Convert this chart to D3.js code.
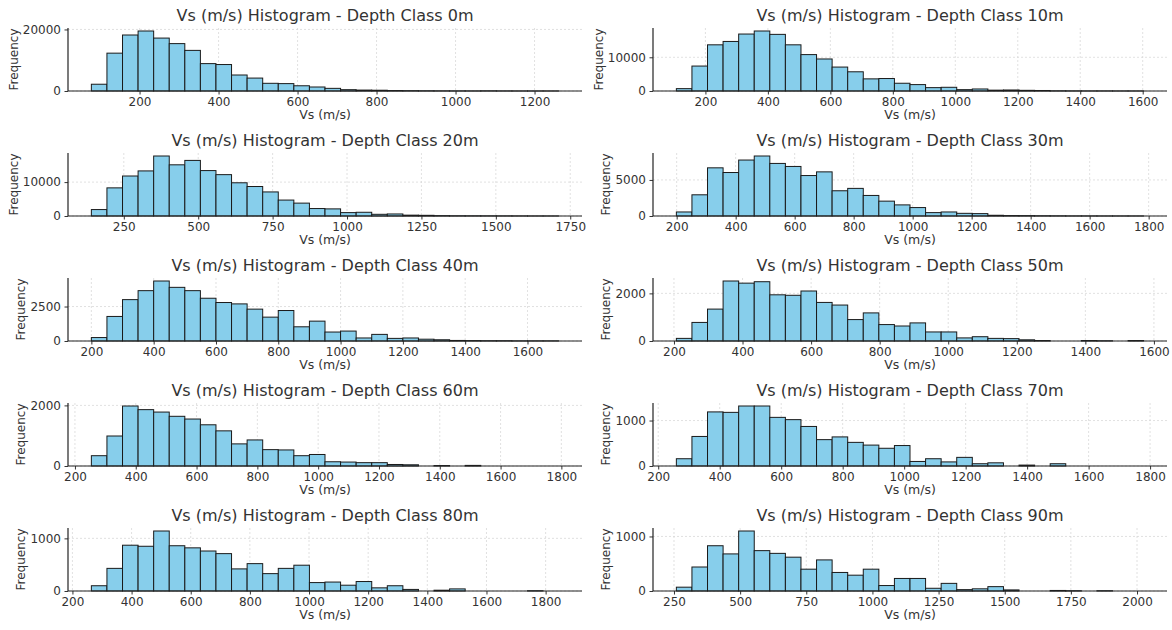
<!DOCTYPE html>
<html>
<head>
<meta charset="utf-8">
<script src="https://cdn.jsdelivr.net/npm/d3@7"></script>
<style>
  body { margin: 0; background: #fff; }
  svg { display: block; font-family: "DejaVu Sans", sans-serif; }
</style>
</head>
<body>
<svg id="chart"></svg>
<script>
// depth classes, one histogram each (30 bins between binMin and binMax)
const depthClasses = ["0m", "10m", "20m", "30m", "40m", "50m", "60m", "70m", "80m", "90m"];
const binMin = [78, 107, 141, 199, 200, 207, 254, 259, 264, 259];
const binMax = [1261, 1603, 1711, 1783, 1700, 1570, 1791, 1779, 1844, 2025];

const counts0m = [2200, 12300, 18200, 19500, 17200, 15400, 13200, 8900, 8600, 5200, 4200, 2500, 2400, 1700, 1300, 860, 430, 300, 250, 150, 100, 60, 40, 30, 20, 50, 20, 10, 10, 10];
const counts10m = [700, 7400, 13700, 14700, 16900, 17800, 16800, 13700, 10800, 9500, 7100, 5700, 3600, 3700, 2300, 1900, 1000, 1100, 400, 600, 250, 300, 200, 150, 50, 30, 20, 20, 10, 10];
const counts20m = [1900, 8300, 11800, 13300, 17700, 15100, 16400, 13400, 12200, 9800, 8700, 7100, 4700, 3800, 2200, 2100, 1000, 1100, 500, 600, 250, 200, 100, 60, 50, 40, 30, 20, 10, 10];
const counts30m = [560, 2940, 6680, 6030, 7760, 8320, 7290, 6870, 5610, 6120, 3500, 3830, 2850, 2060, 1540, 1170, 470, 560, 370, 330, 100, 60, 50, 30, 20, 10, 10, 5, 5, 5];
const counts40m = [250, 1780, 3000, 3650, 4350, 3890, 3650, 3100, 2790, 2690, 2310, 1730, 2210, 1030, 1440, 650, 720, 220, 480, 190, 220, 130, 90, 40, 30, 20, 20, 10, 10, 10];
const counts50m = [110, 780, 1340, 2520, 2430, 2490, 1940, 1920, 2100, 1620, 1510, 900, 1180, 690, 630, 760, 380, 380, 130, 180, 110, 100, 50, 20, 0, 0, 20, 10, 0, 20];
const counts60m = [340, 990, 1980, 1860, 1780, 1640, 1550, 1360, 1160, 730, 860, 540, 530, 340, 380, 140, 130, 110, 110, 50, 40, 0, 15, 0, 20, 0, 0, 0, 0, 0];
const counts70m = [160, 650, 1190, 1180, 1320, 1320, 1070, 1020, 870, 580, 640, 520, 460, 390, 450, 100, 160, 90, 190, 50, 70, 0, 20, 0, 50, 0, 0, 0, 0, 0];
const counts80m = [100, 430, 870, 850, 1140, 860, 820, 760, 710, 420, 520, 330, 430, 490, 160, 170, 110, 180, 60, 100, 30, 0, 15, 40, 0, 0, 0, 0, 5, 0];
const counts90m = [70, 440, 830, 680, 1100, 740, 690, 620, 400, 570, 340, 290, 400, 100, 230, 230, 50, 140, 25, 40, 80, 20, 0, 0, 10, 5, 0, 5, 0, 0];
const counts = [counts0m, counts10m, counts20m, counts30m, counts40m, counts50m, counts60m, counts70m, counts80m, counts90m];

const xTicks200to1200 = [200, 400, 600, 800, 1000, 1200];
const xTicks200to1600 = [200, 400, 600, 800, 1000, 1200, 1400, 1600];
const xTicks200to1800 = [200, 400, 600, 800, 1000, 1200, 1400, 1600, 1800];
const xTicks250to1750 = [250, 500, 750, 1000, 1250, 1500, 1750];
const xTicks250to2000 = [250, 500, 750, 1000, 1250, 1500, 1750, 2000];
const xTicks = [xTicks200to1200, xTicks200to1600, xTicks250to1750, xTicks200to1800, xTicks200to1600,
                xTicks200to1600, xTicks200to1800, xTicks200to1800, xTicks200to1800, xTicks250to2000];
const yTicks = [[0, 20000], [0, 10000], [0, 10000], [0, 5000], [0, 2500],
                [0, 2000], [0, 2000], [0, 1000], [0, 1000], [0, 1000]];

const width = 1172;
const height = 630;
const colLeft = [68, 653];
const plotW = 514;
const plotH = 63;
const rowTop = 28;
const rowPitch = 125;
const nBins = 30;
const textColor = "#333";

const svg = d3.select("#chart")
  .attr("width", width)
  .attr("height", height)
  .attr("viewBox", [0, 0, width, height]);

svg.append("rect").attr("width", width).attr("height", height).attr("fill", "#fff");

depthClasses.forEach((depth, i) => {
  const col = i % 2;
  const row = Math.floor(i / 2);
  const lo = binMin[i];
  const hi = binMax[i];
  const span = hi - lo;
  const binW = span / nBins;
  const bins = counts[i].map((c, k) => ({ x0: lo + k * binW, x1: lo + (k + 1) * binW, count: c }));

  const x = d3.scaleLinear().domain([lo - 0.05 * span, hi + 0.05 * span]).range([0, plotW]);
  const y = d3.scaleLinear().domain([0, d3.max(counts[i]) * 1.05]).range([plotH, 0]);

  const g = svg.append("g")
    .attr("transform", `translate(${colLeft[col]},${rowTop + row * rowPitch})`);

  // light dotted grid
  g.append("g")
    .selectAll("line")
    .data(xTicks[i])
    .join("line")
    .attr("x1", (d) => x(d))
    .attr("x2", (d) => x(d))
    .attr("y1", 0)
    .attr("y2", plotH)
    .attr("stroke", "#d4d4d4")
    .attr("stroke-width", 0.7)
    .attr("stroke-dasharray", "2,2");

  g.append("g")
    .selectAll("line")
    .data(yTicks[i])
    .join("line")
    .attr("x1", 0)
    .attr("x2", plotW)
    .attr("y1", (d) => y(d))
    .attr("y2", (d) => y(d))
    .attr("stroke", "#d4d4d4")
    .attr("stroke-width", 0.7)
    .attr("stroke-dasharray", "2,2");

  g.append("g")
    .selectAll("rect")
    .data(bins.filter((b) => b.count > 0))
    .join("rect")
    .attr("x", (d) => x(d.x0))
    .attr("width", (d) => x(d.x1) - x(d.x0))
    .attr("y", (d) => y(d.count))
    .attr("height", (d) => y(0) - y(d.count))
    .attr("fill", "#87ceeb")
    .attr("stroke", "#1a1a1a")
    .attr("stroke-width", 1);

  const xAxisG = g.append("g")
    .attr("transform", `translate(0,${plotH})`)
    .call(d3.axisBottom(x).tickValues(xTicks[i]).tickSize(3.5).tickPadding(3).tickFormat((d) => d))
    .attr("font-family", null)
    .attr("font-size", 12);
  xAxisG.select(".domain").remove();

  const yAxisG = g.append("g")
    .call(d3.axisLeft(y).tickValues(yTicks[i]).tickSize(3.5).tickPadding(3.5).tickFormat((d) => d))
    .attr("font-family", null)
    .attr("font-size", 12);
  yAxisG.select(".domain").remove();

  g.selectAll(".tick line").attr("stroke", textColor);
  g.selectAll(".tick text").attr("fill", textColor);

  // spines: left and bottom only
  g.append("line")
    .attr("x1", 0).attr("x2", plotW)
    .attr("y1", plotH).attr("y2", plotH)
    .attr("stroke", "#222").attr("stroke-width", 1.2);
  g.append("line")
    .attr("x1", 0).attr("x2", 0)
    .attr("y1", 0).attr("y2", plotH)
    .attr("stroke", "#222").attr("stroke-width", 1.2);

  g.append("text")
    .attr("x", plotW / 2)
    .attr("y", -7)
    .attr("text-anchor", "middle")
    .attr("font-size", 16)
    .attr("fill", textColor)
    .text(`Vs (m/s) Histogram - Depth Class ${depth}`);

  g.append("text")
    .attr("x", plotW / 2)
    .attr("y", plotH + 28)
    .attr("text-anchor", "middle")
    .attr("font-size", 12.5)
    .attr("fill", textColor)
    .text("Vs (m/s)");

  const labelW = d3.max(yAxisG.selectAll("text").nodes(), (n) => n.getComputedTextLength());
  g.append("text")
    .attr("transform", `translate(${-(7 + labelW + 5)},${plotH / 2}) rotate(-90)`)
    .attr("text-anchor", "middle")
    .attr("font-size", 12)
    .attr("fill", textColor)
    .text("Frequency");
});
</script>
</body>
</html>
